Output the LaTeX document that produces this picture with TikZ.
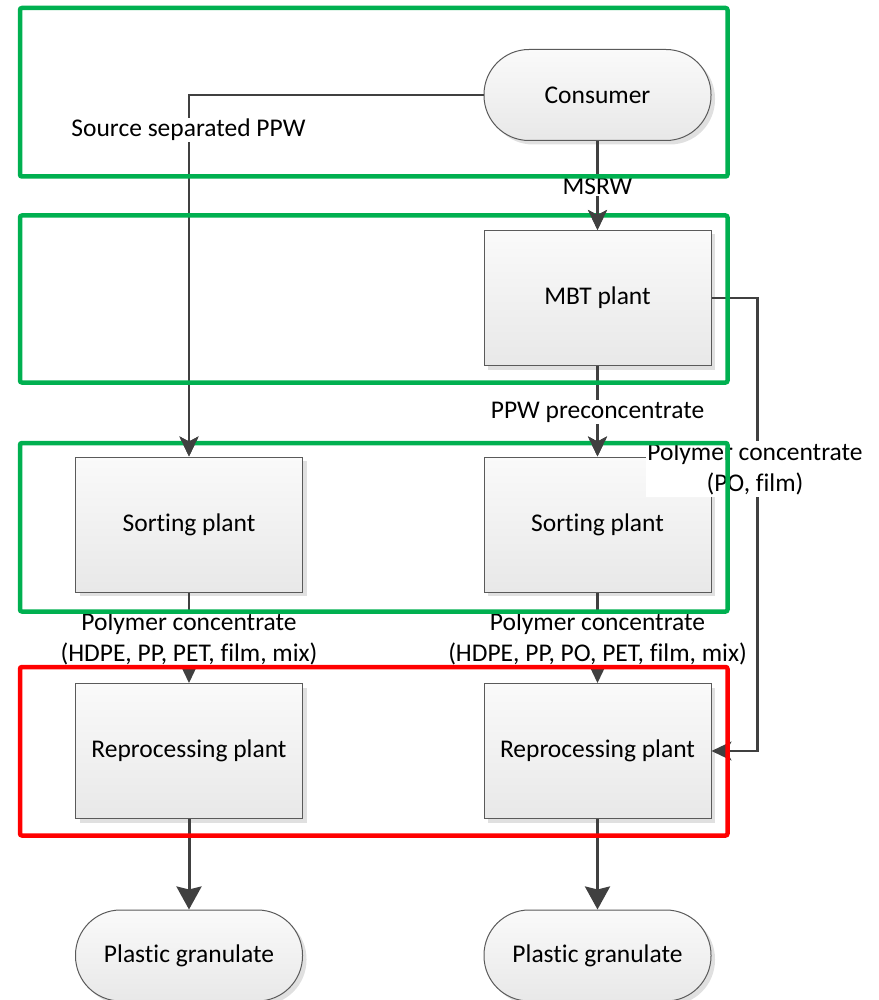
\documentclass[tikz,border=0pt]{standalone}
\usepackage{fontspec}
\setmainfont{Carlito}[Ligatures={NoCommon,NoRequired,NoContextual}]
\usetikzlibrary{arrows.meta,shadows,calc}
\definecolor{frgreen}{HTML}{00B050}
\definecolor{frred}{HTML}{FF0000}
\definecolor{connc}{HTML}{404040}
\definecolor{bordc}{HTML}{5A5A5A}
\begin{document}
\begin{tikzpicture}[x=1pt,y=-1pt,
  font=\fontsize{25.5}{31}\selectfont,
  box/.style={draw=bordc,line width=1pt,top color=white!98!black,bottom color=white!91!black,
    minimum width=227pt,minimum height=135pt,inner sep=0pt,align=center,
    drop shadow={shadow xshift=4pt,shadow yshift=-4pt,fill=black!12,opacity=1}},
  term/.style={box,minimum height=91pt,rounded corners=45pt},
  conn/.style={draw=connc,line width=2.2pt},
  arr/.style={conn,-{Stealth[length=20pt,width=19pt,inset=5pt]}},
  bigarr/.style={draw=connc,line width=3pt,-{Stealth[length=23pt,width=25pt,inset=3pt]}},
  lbl/.style={fill=white,inner sep=1.5pt,align=center},
  frame/.style={line width=4.5pt,rounded corners=2pt}
]
\useasboundingbox (0,0) rectangle (878,1000);
% nodes
\node[term] (cons) at (597.5,95) {Consumer};
\node[box] (mbt) at (597.5,298) {MBT plant};
\node[box] (sortL) at (189,524.5) {Sorting plant};
\node[box] (sortR) at (597.5,524.5) {Sorting plant};
\node[box] (repL) at (189,751) {Reprocessing plant};
\node[box] (repR) at (597.5,751) {Reprocessing plant};
\node[term] (granL) at (189,955.5) {Plastic granulate};
\node[term] (granR) at (597.5,955.5) {Plastic granulate};
% connectors
\draw[arr] (cons.west) -| (sortL.north);
\draw[arr] (cons.south) -- (mbt.north);
\draw[arr] (mbt.east) -- ++(46,0) |- (repR.east);
\draw[arr] (mbt.south) -- (sortR.north);
\draw[arr] (sortL.south) -- (repL.north);
\draw[arr] (sortR.south) -- (repR.north);
\draw[bigarr] (repL.south) -- (granL.north);
\draw[bigarr] (repR.south) -- (granR.north);
% labels
\node[lbl] (lsrc) at (188.5,130) {Source separated PPW};
\node[lbl] (lmsrw) at (597.5,186) {MSRW};
\node[lbl] (lppw) at (597.5,412) {PPW preconcentrate};
\node[lbl] (lpo) at (755,469) {Polymer concentrate\\(PO, film)};
\node[lbl] (lpcL) at (189,639) {Polymer concentrate\\(HDPE, PP, PET, film, mix)};
\node[lbl] (lpcR) at (597.5,639) {Polymer concentrate\\(HDPE, PP, PO, PET, film, mix)};
% frames
\draw[frgreen,frame] (20,8) rectangle (727.5,176.5);
\draw[frgreen,frame] (20,215.5) rectangle (727.5,382.5);
\draw[frgreen,frame] (20,443) rectangle (727.5,611.5);
\draw[frred,frame] (20,667) rectangle (727.5,835.5);
% arrow tips above green frames
\draw[arr] ($(mbt.north)+(0,-26)$) -- (mbt.north);
\draw[arr] ($(sortR.north)+(0,-26)$) -- (sortR.north);
\draw[arr] ($(sortL.north)+(0,-26)$) -- (sortL.north);
\end{tikzpicture}
\end{document}
